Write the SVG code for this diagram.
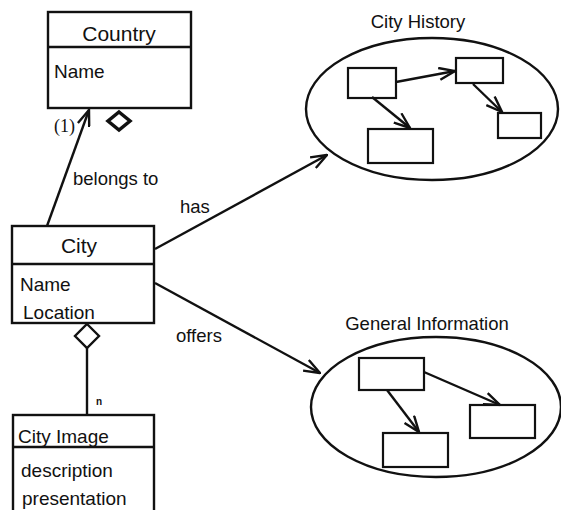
<svg xmlns="http://www.w3.org/2000/svg" width="561" height="510" viewBox="0 0 561 510">
<style>
.box{fill:#fff;stroke:#111;stroke-width:2.4}
.ln{fill:none;stroke:#111;stroke-width:2.4}
.t{font-family:"Liberation Sans",Arial,sans-serif;fill:#111}
.title{font-size:21px}
.attr{font-size:19px}
.lbl{font-size:18.5px}
.sm{fill:#fff;stroke:#111;stroke-width:2.2}
</style>
<defs>
<marker id="arr" markerWidth="18" markerHeight="14" refX="17" refY="7" orient="auto" markerUnits="userSpaceOnUse">
<path d="M1,1 L17,7 L1,13" fill="none" stroke="#111" stroke-width="2.4"/>
</marker>
</defs>
<g id="connectors">
<line class="ln" x1="47" y1="226" x2="89" y2="110" marker-end="url(#arr)"/>
<text class="t" x="54" y="132" style="font-family:'Liberation Serif',serif;font-size:18px">(1)</text>
<path class="ln" d="M119,112 L130,121 L119,130 L108,121 Z" style="stroke-width:3.5"/>
<text class="t lbl" x="73" y="185">belongs to</text>
<line class="ln" x1="155" y1="249" x2="327" y2="155" marker-end="url(#arr)"/>
<text class="t lbl" x="180" y="213">has</text>
<line class="ln" x1="155" y1="283" x2="320" y2="373" marker-end="url(#arr)"/>
<text class="t lbl" x="176" y="342">offers</text>
<path class="ln" d="M87,324 L99,336 L87,348 L75,336 Z"/>
<line class="ln" x1="87" y1="348" x2="87" y2="415"/>
<text class="t" x="96" y="405" style="font-size:10px;font-weight:bold">n</text>
</g>
<g id="country">
<rect class="box" x="48" y="12" width="143" height="96"/>
<line class="ln" x1="48" y1="47" x2="191" y2="47"/>
<text class="t title" x="119" y="41" text-anchor="middle">Country</text>
<text class="t attr" x="54" y="78">Name</text>
</g>
<g id="city">
<rect class="box" x="12" y="226" width="142" height="97"/>
<line class="ln" x1="12" y1="264" x2="154" y2="264"/>
<text class="t title" x="79" y="253" text-anchor="middle">City</text>
<text class="t attr" x="20" y="291">Name</text>
<text class="t attr" x="23" y="319">Location</text>
</g>
<g id="city-image">
<rect class="box" x="13" y="415" width="141" height="110"/>
<line class="ln" x1="13" y1="447" x2="154" y2="447"/>
<text class="t attr" x="18" y="443">City Image</text>
<text class="t attr" x="21" y="477">description</text>
<text class="t attr" x="22" y="505">presentation</text>
</g>
<g id="city-history">
<text class="t lbl" x="418" y="28" text-anchor="middle">City History</text>
<ellipse class="ln" cx="432" cy="109" rx="126" ry="71"/>
<rect class="sm" x="348" y="68" width="48" height="30"/>
<rect class="sm" x="456" y="58" width="47" height="25"/>
<rect class="sm" x="368" y="129" width="65" height="34"/>
<rect class="sm" x="498" y="113" width="43" height="25"/>
<line class="ln" x1="396" y1="82" x2="455" y2="71" marker-end="url(#arr)"/>
<line class="ln" x1="372" y1="97" x2="410" y2="128" marker-end="url(#arr)"/>
<line class="ln" x1="473" y1="84" x2="502" y2="112" marker-end="url(#arr)"/>
</g>
<g id="general-information">
<text class="t lbl" x="427" y="330" text-anchor="middle">General Information</text>
<ellipse class="ln" cx="436" cy="407" rx="125" ry="70"/>
<rect class="sm" x="359" y="358" width="65" height="32"/>
<rect class="sm" x="470" y="405" width="65" height="33"/>
<rect class="sm" x="383" y="433" width="65" height="34"/>
<line class="ln" x1="424" y1="372" x2="500" y2="405" marker-end="url(#arr)"/>
<line class="ln" x1="387" y1="390" x2="419" y2="432" marker-end="url(#arr)"/>
</g>
</svg>
